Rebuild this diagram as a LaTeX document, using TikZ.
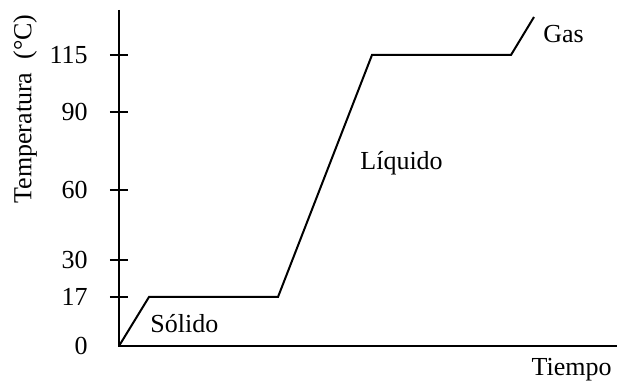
\documentclass[tikz,border=0pt]{standalone}
\usepackage{fontspec}
\setmainfont{Liberation Serif}
\usetikzlibrary{positioning}
\tikzset{
  axis/.style={line width=1pt},
  curve/.style={line width=1pt,line join=miter},
  tick/.style={line width=1pt},
  lbl/.style={font=\fontsize{13}{15}\selectfont,inner sep=0pt},
}
\begin{document}
\begin{tikzpicture}[x=0.5pt,y=0.5pt]
        \useasboundingbox (-119,-37) rectangle (498,346);

        % ejes
        \coordinate (o) at (0,0);
        \coordinate (ytop) at (0,336);
        \coordinate (xend) at (498,0);
        \draw[axis] (ytop) -- (o) -- (xend);

        % marcas del eje de temperatura
        \foreach \val/\pos in {17/49,30/86,60/156,90/234,115/291} {
            \draw[tick] (-9,\pos) -- (9,\pos);
            \node[lbl,anchor=east] (t\val) at (-31,\pos) {\val};
        }
        \node[lbl,anchor=east] (t0) at (-31,0) {0};

        \node[lbl,rotate=90] (ylabel) at (-94,237) {Temperatura\ \ (°C)};
        \node[lbl,anchor=base east] (xlabel) at (493,-30) {Tiempo};

        % curva de calentamiento
        \coordinate (p1) at (30,49);
        \coordinate (p2) at (159,49);
        \coordinate (p3) at (253,291);
        \coordinate (p4) at (392,291);
        \coordinate (p5) at (415,329);
        \draw[curve] (o) -- (p1) -- (p2) -- (p3) -- (p4) -- (p5);

        \node[lbl,anchor=base west] (solido)  at (31,13)   {Sólido};
        \node[lbl,anchor=base west] (liquido) at (241,176) {Líquido};
        \node[lbl,anchor=base west] (gas)     at (424,303) {Gas};

    \end{tikzpicture}
\end{document}
